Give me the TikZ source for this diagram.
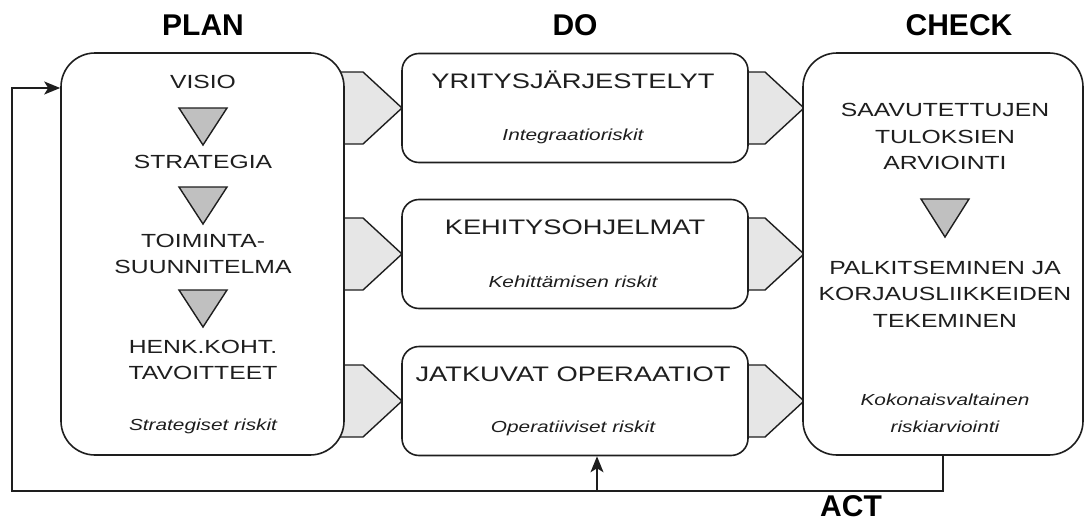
\documentclass[tikz,border=0pt]{standalone}
\usepackage{fontspec}
\setmainfont{Liberation Sans}[FakeStretch=1.3]
\newfontfamily\titlefont{Liberation Sans}
\usetikzlibrary{arrows.meta}
\definecolor{txt}{HTML}{1E1E1E}
\definecolor{chev}{HTML}{E6E6E6}
\definecolor{trif}{HTML}{C0C0C0}
\tikzset{
  bigbox/.style={draw=txt, line width=1.6pt, fill=white, rounded corners=34pt, minimum width=#1, minimum height=402pt, inner sep=0pt},
  dobox/.style={draw=txt, line width=1.6pt, fill=white, rounded corners=17pt, minimum width=346pt, minimum height=109pt, inner sep=0pt},
  chevron/.style={draw=txt, line width=1.4pt, fill=chev},
  tri/.style={draw=txt, line width=1.4pt, fill=trif},
  ttl/.style={font=\titlefont\bfseries\fontsize{30}{32}\selectfont, text=black, inner sep=0pt},
  lbl/.style={font=\fontsize{19}{26.5}\selectfont, text=txt, align=center, inner sep=0pt},
  dolbl/.style={font=\fontsize{21}{24}\selectfont, text=txt, align=center, inner sep=0pt},
  risk/.style={font=\itshape\fontsize{16}{27}\selectfont, text=txt, align=center, inner sep=0pt},
  fb/.style={draw=txt, line width=1.6pt},
  tip/.style={-{Stealth[length=16pt,width=13pt,inset=4pt]}},
}
\begin{document}
\begin{tikzpicture}[x=1pt, y=-1pt]
\useasboundingbox (0,0) rectangle (1085,522);
% titles
\node[ttl] (tplan) at (203,25) {PLAN};
\node[ttl] (tdo) at (575,25) {DO};
\node[ttl] (tcheck) at (959,25) {CHECK};
\node[ttl] (tact) at (851,506) {ACT};
% chevrons (behind boxes)
\foreach \c in {108,254,401} {
  \draw[chevron] (330,\c-36) -- (363,\c-36) -- (402,\c) -- (363,\c+36) -- (330,\c+36) -- cycle;
  \draw[chevron] (735,\c-36) -- (765,\c-36) -- (804,\c) -- (765,\c+36) -- (735,\c+36) -- cycle;
}
% boxes
\node[bigbox=283pt] (plan) at (202.5,254) {};
\node[bigbox=280pt] (check) at (943,254) {};
\node[dobox] (do1) at (575,108) {};
\node[dobox] (do2) at (575,254) {};
\node[dobox] (do3) at (575,401) {};
% PLAN contents
\node[lbl] (visio) at (203,82) {VISIO};
\draw[tri] (179,108) -- (227,108) -- (203,145) -- cycle;
\node[lbl] (strat) at (203,162) {STRATEGIA};
\draw[tri] (179,187) -- (227,187) -- (203,224) -- cycle;
\node[lbl] (toim) at (203,254) {TOIMINTA-\\SUUNNITELMA};
\draw[tri] (179,290) -- (227,290) -- (203,327) -- cycle;
\node[lbl] (henk) at (203,360) {HENK.KOHT.\\TAVOITTEET};
\node[risk] (rplan) at (203,426) {Strategiset riskit};
% DO contents
\node[dolbl] (d1) at (573,80) {YRITYSJÄRJESTELYT};
\node[risk] (r1) at (573,136) {Integraatioriskit};
\node[dolbl] (d2) at (575,227) {KEHITYSOHJELMAT};
\node[risk] (r2) at (573,282) {Kehittämisen riskit};
\node[dolbl] (d3) at (573,374) {JATKUVAT OPERAATIOT};
\node[risk] (r3) at (573,428) {Operatiiviset riskit};
% CHECK contents
\node[lbl] (c1) at (945,136.5) {SAAVUTETTUJEN\\TULOKSIEN\\ARVIOINTI};
\draw[tri] (921,199) -- (969,199) -- (945,237) -- cycle;
\node[lbl] (c2) at (945,294) {PALKITSEMINEN JA\\KORJAUSLIIKKEIDEN\\TEKEMINEN};
\node[risk] (rc) at (945,413) {Kokonaisvaltainen\\riskiarviointi};
% feedback
\coordinate (fbl) at (12,491);
\coordinate (fbin) at (12,88);
\coordinate (fbup) at (597,491);
\draw[fb, tip] (check.south) |- (fbl) |- (plan.west |- fbin);
\draw[fb, tip] (fbup) -- (fbup |- do3.south);
\end{tikzpicture}
\end{document}
